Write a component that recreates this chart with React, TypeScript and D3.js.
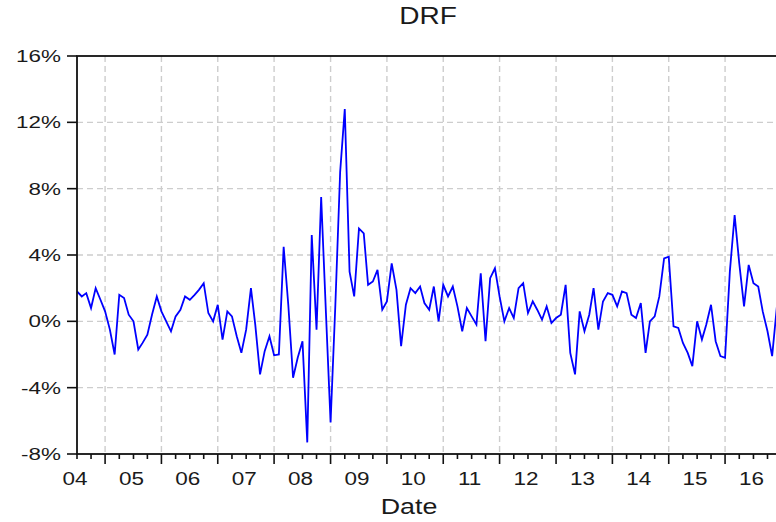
import * as d3 from 'd3';

// monthly DRF values (%), starting Jan 2004
const drf = [
  1.8, 1.5, 1.7, 0.8, 2.0, 1.3, 0.6, -0.5, -2.0, 1.6, 1.4, 0.4,
  0.0, -1.7, -1.3, -0.8, 0.4, 1.5, 0.6, 0.0, -0.6, 0.3, 0.7, 1.5,
  1.3, 1.6, 1.9, 2.3, 0.5, 0.0, 1.0, -1.1, 0.6, 0.3, -0.9, -1.9,
  -0.5, 2.0, -0.2, -3.2, -1.8, -0.9, -2.05, -2.0, 4.5, 1.0, -3.4, -2.2,
  -1.2, -7.3, 5.2, -0.5, 7.5, 0.5, -6.1, 1.0, 9.0, 12.8, 3.0, 1.5,
  5.6, 5.3, 2.2, 2.4, 3.1, 0.7, 1.2, 3.5, 1.9, -1.5, 1.0, 2.0,
  1.7, 2.1, 1.1, 0.7, 2.1, 0.0, 2.2, 1.5, 2.1, 0.9, -0.6, 0.8,
  0.3, -0.2, 2.9, -1.2, 2.6, 3.2, 1.5, 0.0, 0.8, 0.2, 2.0, 2.3,
  0.5, 1.2, 0.7, 0.1, 0.9, -0.1, 0.2, 0.4, 2.2, -1.9, -3.2, 0.6,
  -0.6, 0.4, 2.0, -0.5, 1.2, 1.7, 1.6, 0.9, 1.8, 1.7, 0.4, 0.2,
  1.1, -1.9, 0.0, 0.3, 1.5, 3.8, 3.9, -0.3, -0.4, -1.3, -1.9, -2.7,
  0.0, -1.1, -0.2, 1.0, -1.2, -2.1, -2.2, 3.0, 6.4, 3.5, 0.9, 3.4,
  2.3, 2.1, 0.6, -0.6, -2.1, 0.9,
];
const firstMonth = new Date(2004, 0, 1);
const yTicks = [-8, -4, 0, 4, 8, 12, 16];
const years = d3.range(2004, 2017);

const W = 776;
const H = 522;
const left = 77;
const top = 56;
const bottom = 454;
const pxPerMonth = 4.697;
const font = 'Liberation Sans, Arial, sans-serif';

export default function App() {
  const dates = drf.map((_, i) => d3.timeMonth.offset(firstMonth, i));
  const endMonth = d3.timeMonth.offset(firstMonth, 150);
  const right = left + 150 * pxPerMonth;

  const x = d3.scaleTime().domain([firstMonth, endMonth]).range([left, right]);
  const y = d3.scaleLinear().domain([-8, 16]).range([bottom, top]);

  const line = d3
    .line<number>()
    .x((_, i) => x(dates[i]))
    .y((d) => y(d));

  const quarters = d3.timeMonth.every(3)!.range(firstMonth, endMonth);
  const julys = quarters.filter((d) => d.getMonth() === 6);

  return (
    <svg
      width={W}
      height={H}
      style={{ position: 'absolute', left: 0, top: 0, background: '#fff' }}
    >
      <defs>
        <clipPath id="plot">
          <rect x={left} y={top} width={right - left} height={bottom - top} />
        </clipPath>
      </defs>

      {/* grid */}
      <g stroke="#cdcdcd" strokeWidth={1.4} strokeDasharray="6,4">
        {yTicks.slice(1, -1).map((t) => (
          <line key={t} x1={left} x2={right} y1={y(t)} y2={y(t)} />
        ))}
        {julys.map((d) => (
          <line key={+d} x1={x(d)} x2={x(d)} y1={top} y2={bottom} />
        ))}
      </g>

      <path
        d={line(drf) || ''}
        fill="none"
        stroke="#0000ff"
        strokeWidth={1.8}
        clipPath="url(#plot)"
      />

      {/* frame */}
      <rect
        x={left}
        y={top}
        width={right - left}
        height={bottom - top}
        fill="none"
        stroke="#111"
        strokeWidth={1.8}
      />

      {/* y axis */}
      <g fill="#1a1a1a" fontFamily={font} fontSize={17}>
        {yTicks.map((t) => (
          <g key={t}>
            <line x1={67} x2={left} y1={y(t)} y2={y(t)} stroke="#111" strokeWidth={1.6} />
            <text
              transform={`translate(61,${y(t) + 6}) scale(1.32,1)`}
              textAnchor="end"
            >
              {t}%
            </text>
          </g>
        ))}
      </g>

      {/* x axis */}
      <g stroke="#111" strokeWidth={1.6}>
        {quarters.map((d) => (
          <line
            key={+d}
            x1={x(d)}
            x2={x(d)}
            y1={bottom}
            y2={bottom + (d.getMonth() === 6 ? 10 : 5)}
          />
        ))}
      </g>
      <g fill="#1a1a1a" fontFamily={font} fontSize={18}>
        {years.map((yr) => (
          <text
            key={yr}
            transform={`translate(${x(new Date(yr, 0, 1)) - 2},485) scale(1.25,1)`}
            textAnchor="middle"
          >
            {d3.timeFormat('%y')(new Date(yr, 0, 1))}
          </text>
        ))}
      </g>

      <text
        transform="translate(428,24) scale(1.22,1)"
        textAnchor="middle"
        fontFamily={font}
        fontSize={23}
        fill="#1a1a1a"
      >
        DRF
      </text>
      <text
        transform="translate(409,514) scale(1.22,1)"
        textAnchor="middle"
        fontFamily={font}
        fontSize={22}
        fill="#1a1a1a"
      >
        Date
      </text>
    </svg>
  );
}
